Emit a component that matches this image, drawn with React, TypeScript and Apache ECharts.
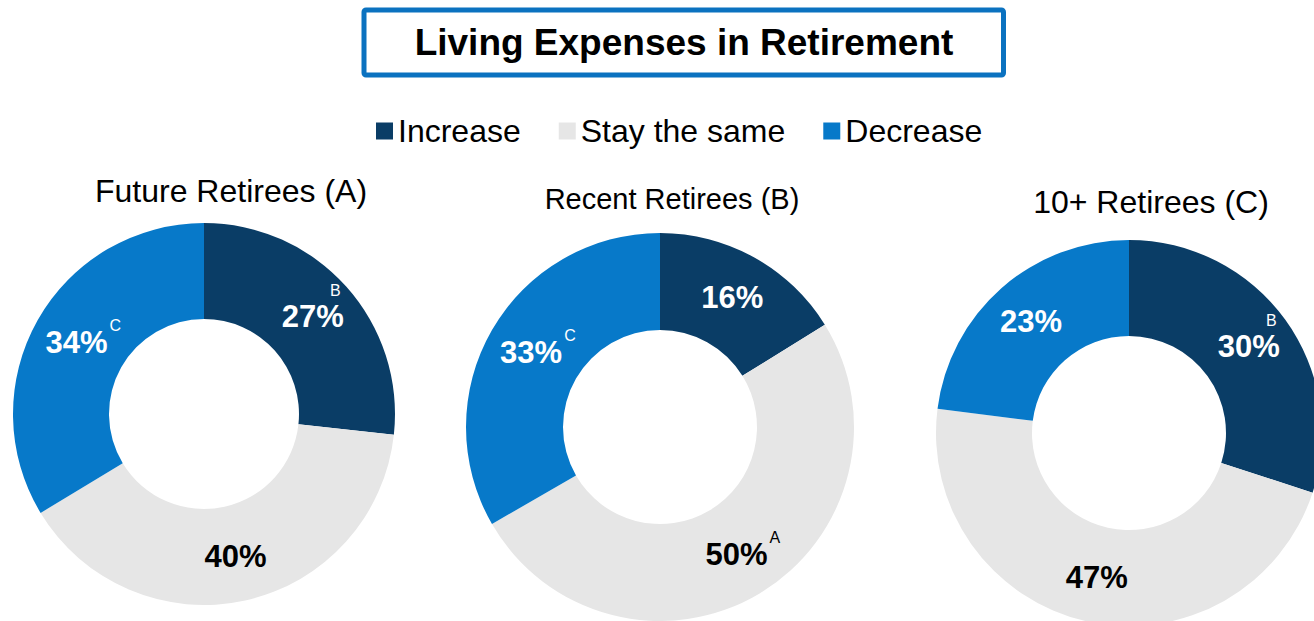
import React, { useEffect, useRef } from 'react';
import * as echarts from 'echarts';

// ---- data ----
const chartTitle = 'Living Expenses in Retirement';
const categories = ['Increase', 'Stay the same', 'Decrease'];
const groupTitles = ['Future Retirees (A)', 'Recent Retirees (B)', '10+ Retirees (C)'];
const futureRetirees = [27, 40, 34];
const recentRetirees = [16, 50, 33];
const tenPlusRetirees = [30, 47, 23];
// significance markers (superscripts) per slice
const futureMarks = ['B', '', 'C'];
const recentMarks = ['', 'A', 'C'];
const tenPlusMarks = ['B', '', ''];

// ---- styles ----
const COLORS = ['#0A3D66', '#E6E6E6', '#0779C9'];
const LABEL_COLORS = ['#FFFFFF', '#000000', '#FFFFFF'];
const FONT = '"Liberation Sans", Arial, Helvetica, sans-serif';

function makeLabel(value: number, mark: string, idx: number) {
  const color = LABEL_COLORS[idx];
  const base: any = { fontSize: 31, fontWeight: 'bold', height: 31, color, fontFamily: FONT };
  const sup: any = { fontSize: 16, height: 16, color, fontFamily: FONT, fontWeight: 'normal' };
  if (!mark) {
    return { formatter: `{v|${value}%}`, rich: { v: base } };
  }
  if (idx === 0) {
    // marker sits above the right end of the value
    const p = 2.5;
    return {
      formatter: `{s|${mark}}\n{v|${value}%}`,
      rich: {
        v: { ...base, padding: [0, 0, 16 + p, 0] },
        s: { ...sup, align: 'right', padding: [0, 3, p, 0] },
      },
    };
  }
  // marker as superscript after the value
  const T = 9.5;
  const gap = 2;
  const sw = 11;
  return {
    formatter: `{v|${value}%}{s|${mark}}`,
    rich: {
      v: { ...base, padding: [T, 0, T, gap + sw] },
      s: { ...sup, padding: [0, 0, 31 + 2 * T - 16, gap] },
    },
  };
}

const pies = [
  { values: futureRetirees, marks: futureMarks, center: [204, 414], radius: [95, 191], title: groupTitles[0], tx: 231, ty: 191, fs: 32 },
  { values: recentRetirees, marks: recentMarks, center: [660, 427], radius: [97, 194], title: groupTitles[1], tx: 672, ty: 199, fs: 29 },
  { values: tenPlusRetirees, marks: tenPlusMarks, center: [1129, 433], radius: [97, 193], title: groupTitles[2], tx: 1151, ty: 202, fs: 32 },
];

export default function App() {
  const ref = useRef<HTMLDivElement>(null);
  useEffect(() => {
    if (!ref.current) return;
    const chart = echarts.init(ref.current, undefined, { renderer: 'svg' });
    const option: any = {
      animation: false,
      backgroundColor: '#FFFFFF',
      textStyle: { fontFamily: FONT },
      legend: {
        data: categories,
        left: 376,
        top: 115,
        padding: 0,
        icon: 'rect',
        itemWidth: 17,
        itemHeight: 17,
        itemGap: 38,
        selectedMode: false,
        textStyle: { fontSize: 32, color: '#000000', fontFamily: FONT },
      },
      graphic: [
        {
          type: 'rect',
          shape: { x: 364, y: 10, width: 639.5, height: 65, r: 2 },
          style: { fill: '#FFFFFF', stroke: '#0B72C0', lineWidth: 5 },
          silent: true,
        },
        {
          type: 'text',
          x: 684,
          y: 42,
          silent: true,
          style: {
            text: chartTitle,
            fontSize: 37,
            fontWeight: 'bold',
            fontFamily: FONT,
            fill: '#000000',
            align: 'center',
            verticalAlign: 'middle',
          },
        },
        ...pies.map((p) => ({
          type: 'text',
          x: p.tx,
          y: p.ty,
          silent: true,
          style: {
            text: p.title,
            fontSize: p.fs,
            fontFamily: FONT,
            fill: '#000000',
            align: 'center',
            verticalAlign: 'middle',
          },
        })),
      ],
      series: pies.map((p) => ({
        type: 'pie',
        center: p.center,
        radius: p.radius,
        startAngle: 90,
        clockwise: true,
        avoidLabelOverlap: false,
        silent: true,
        emphasis: { disabled: true },
        labelLine: { show: false },
        label: { show: true, position: 'inside' },
        itemStyle: { borderWidth: 0 },
        data: categories.map((name, i) => ({
          name,
          value: p.values[i],
          itemStyle: { color: COLORS[i] },
          label: makeLabel(p.values[i], p.marks[i], i),
        })),
      })),
    };
    chart.setOption(option);
    return () => chart.dispose();
  }, []);
  return (
    <div
      ref={ref}
      style={{ position: 'fixed', left: 0, top: 0, width: 1314, height: 621 }}
    />
  );
}
